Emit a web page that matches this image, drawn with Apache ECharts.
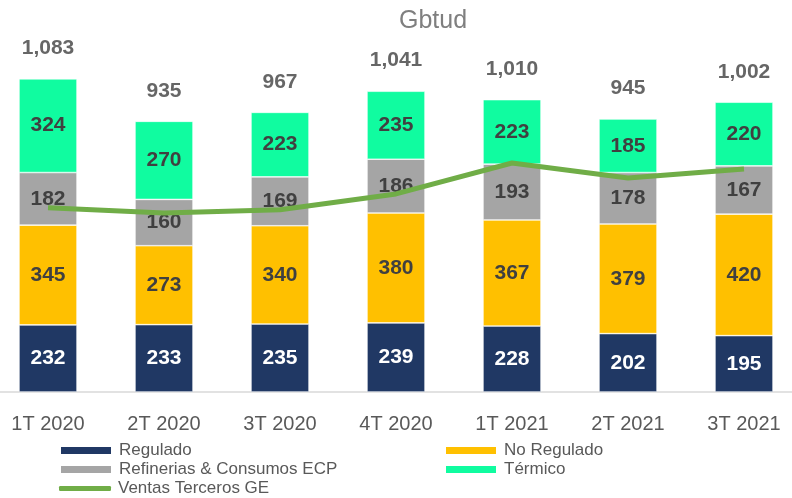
<!DOCTYPE html>
<html>
<head>
<meta charset="utf-8">
<script src="https://cdn.jsdelivr.net/npm/echarts@6/dist/echarts.min.js"></script>
<style>
  html, body { margin: 0; padding: 0; background: #fff; }
  #chart { width: 792px; height: 498px; }
</style>
</head>
<body>
<div id="chart"></div>
<script>
// datos
const periodos = ['1T 2020', '2T 2020', '3T 2020', '4T 2020', '1T 2021', '2T 2021', '3T 2021'];
const regulado = [232, 233, 235, 239, 228, 202, 195];
const noRegulado = [345, 273, 340, 380, 367, 379, 420];
const refinerias = [182, 160, 169, 186, 193, 178, 167];
const termico = [324, 270, 223, 235, 223, 185, 220];
const totales = [1083, 935, 967, 1041, 1010, 945, 1002];
// leído aproximadamente del gráfico
const ventasTerceros = [637, 619, 630, 685, 792, 740, 771];

const fuente = 'Liberation Sans, Arial, sans-serif';

function etiqueta(color) {
    return {
        show: true,
        position: 'inside',
        color: color,
        fontFamily: fuente,
        fontWeight: 'bold',
        fontSize: 21
    };
}

function serieBarra(nombre, datos, color, colorTexto) {
    return {
        name: nombre,
        type: 'bar',
        stack: 'total',
        barWidth: '50%',
        data: datos,
        itemStyle: { color: color, borderColor: '#ffffff', borderWidth: 0.6 },
        label: etiqueta(colorTexto)
    };
}

// una leyenda por elemento para imitar la disposición original
function leyenda(nombre, x, y, alto, icono) {
    return {
        data: [nombre],
        left: x,
        top: y,
        icon: icono || 'rect',
        itemWidth: 52,
        itemHeight: alto,
        itemGap: 0,
        padding: 0,
        textStyle: { color: '#595959', fontFamily: fuente, fontSize: 17, padding: [0, 0, 0, 2] }
    };
}

const chart = echarts.init(document.getElementById('chart'));

const option = {
    animation: false,
    title: {
        text: 'Gbtud',
        left: 428,
        top: 4,
        textAlign: 'center',
        textStyle: { color: '#7f7f7f', fontFamily: fuente, fontWeight: 'normal', fontSize: 25 }
    },
    grid: { left: -10, right: -10, top: 45, bottom: 106, outerBoundsMode: 'none' },
    legend: [
        leyenda('Regulado', 59, 442, 9),
        leyenda('No Regulado', 444, 442, 9),
        leyenda('Refinerias & Consumos ECP', 59, 461, 9),
        leyenda('Térmico', 444, 461, 9),
        leyenda('Ventas Terceros GE', 59, 480, 5, 'roundRect')
    ],
    xAxis: {
        type: 'category',
        data: periodos,
        axisLine: { lineStyle: { color: '#d9d9d9', width: 1.5 } },
        axisTick: { show: false },
        axisLabel: { color: '#595959', fontFamily: fuente, fontSize: 20, margin: 22 }
    },
    yAxis: {
        type: 'value',
        min: 0,
        max: 1200,
        show: false,
        splitLine: { show: false }
    },
    series: [
        serieBarra('Regulado', regulado, '#203864', '#ffffff'),
        serieBarra('No Regulado', noRegulado, '#ffc000', '#404040'),
        serieBarra('Refinerias & Consumos ECP', refinerias, '#a5a5a5', '#404040'),
        serieBarra('Térmico', termico, '#10fca0', '#404040'),
        {
            name: 'Ventas Terceros GE',
            type: 'line',
            data: ventasTerceros,
            symbol: 'none',
            z: 5,
            itemStyle: { color: '#70ad47' },
            lineStyle: { color: '#70ad47', width: 5 }
        },
        {
            name: 'Total',
            type: 'scatter',
            data: totales,
            symbolSize: 0,
            label: {
                show: true,
                position: 'top',
                distance: 20,
                formatter: p => p.value.toLocaleString('en-US'),
                color: '#404040',
                fontFamily: fuente,
                fontWeight: 'bold',
                fontSize: 21
            }
        }
    ]
};

chart.setOption(option);
window.addEventListener('resize', () => chart.resize());
</script>
</body>
</html>
